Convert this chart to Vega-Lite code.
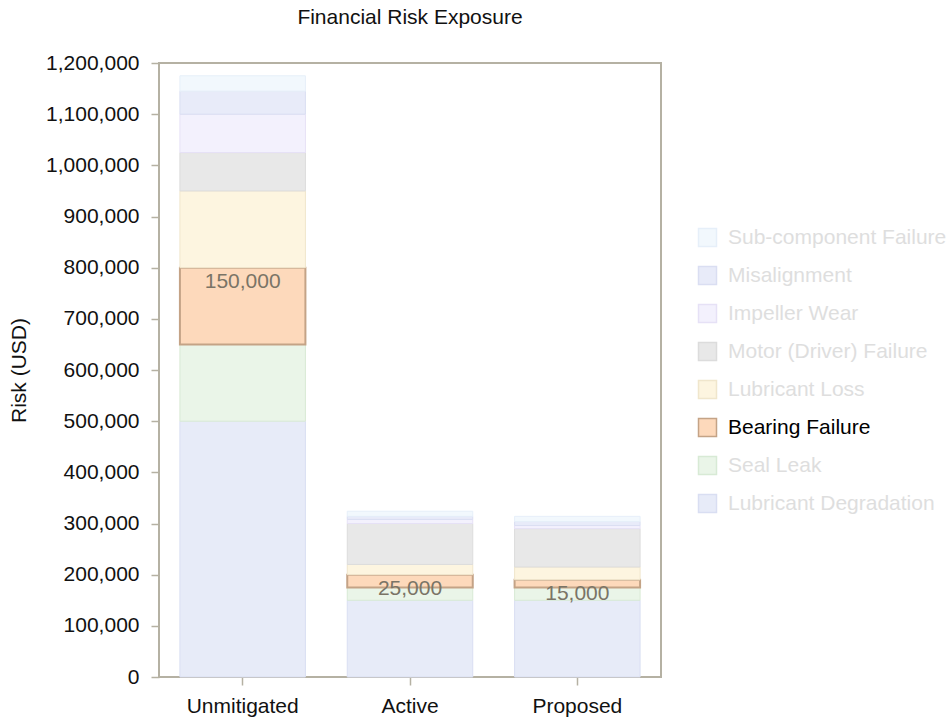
{
  "$schema": "https://vega.github.io/schema/vega-lite/v6.json",
  "autosize": {"type": "none"},
  "width": 502,
  "height": 614,
  "padding": {"left": 159, "top": 63, "right": 290, "bottom": 42},
  "background": "white",
  "config": {
    "font": "Liberation Sans",
    "view": {"stroke": "#b5b1a3", "strokeWidth": 2},
    "axis": {"labelFont": "Liberation Sans", "titleFont": "Liberation Sans"}
  },
  "title": {
    "text": "Financial Risk Exposure",
    "fontSize": 21,
    "fontWeight": "normal",
    "color": "#111111",
    "anchor": "middle",
    "offset": 24
  },
  "data": {
    "values": [
      {"scenario": "Unmitigated", "cause": "Lubricant Degradation", "rank": 1, "value": 500000},
      {"scenario": "Unmitigated", "cause": "Seal Leak", "rank": 2, "value": 150000},
      {"scenario": "Unmitigated", "cause": "Bearing Failure", "rank": 3, "value": 150000},
      {"scenario": "Unmitigated", "cause": "Lubricant Loss", "rank": 4, "value": 150000},
      {"scenario": "Unmitigated", "cause": "Motor (Driver) Failure", "rank": 5, "value": 75000},
      {"scenario": "Unmitigated", "cause": "Impeller Wear", "rank": 6, "value": 75000},
      {"scenario": "Unmitigated", "cause": "Misalignment", "rank": 7, "value": 45000},
      {"scenario": "Unmitigated", "cause": "Sub-component Failure", "rank": 8, "value": 30000},
      {"scenario": "Active", "cause": "Lubricant Degradation", "rank": 1, "value": 150000},
      {"scenario": "Active", "cause": "Seal Leak", "rank": 2, "value": 25000},
      {"scenario": "Active", "cause": "Bearing Failure", "rank": 3, "value": 25000},
      {"scenario": "Active", "cause": "Lubricant Loss", "rank": 4, "value": 20000},
      {"scenario": "Active", "cause": "Motor (Driver) Failure", "rank": 5, "value": 80000},
      {"scenario": "Active", "cause": "Impeller Wear", "rank": 6, "value": 8000},
      {"scenario": "Active", "cause": "Misalignment", "rank": 7, "value": 6000},
      {"scenario": "Active", "cause": "Sub-component Failure", "rank": 8, "value": 10000},
      {"scenario": "Proposed", "cause": "Lubricant Degradation", "rank": 1, "value": 150000},
      {"scenario": "Proposed", "cause": "Seal Leak", "rank": 2, "value": 25000},
      {"scenario": "Proposed", "cause": "Bearing Failure", "rank": 3, "value": 15000},
      {"scenario": "Proposed", "cause": "Lubricant Loss", "rank": 4, "value": 25000},
      {"scenario": "Proposed", "cause": "Motor (Driver) Failure", "rank": 5, "value": 75000},
      {"scenario": "Proposed", "cause": "Impeller Wear", "rank": 6, "value": 6000},
      {"scenario": "Proposed", "cause": "Misalignment", "rank": 7, "value": 8000},
      {"scenario": "Proposed", "cause": "Sub-component Failure", "rank": 8, "value": 10000}
    ]
  },
  "transform": [
    {"stack": "value", "groupby": ["scenario"], "sort": [{"field": "rank", "order": "ascending"}], "as": ["v0", "v1"]}
  ],
  "encoding": {
    "x": {
      "field": "scenario",
      "type": "nominal",
      "sort": ["Unmitigated", "Active", "Proposed"],
      "scale": {"paddingInner": 0.25, "paddingOuter": 0.125},
      "axis": {
        "title": null,
        "labelAngle": 0,
        "labelFontSize": 21,
        "labelColor": "#111111",
        "labelPadding": 10,
        "tickSize": 8,
        "tickColor": "#b5b1a3",
        "tickWidth": 1.5,
        "domain": false
      }
    }
  },
  "layer": [
    {
      "mark": {"type": "bar"},
      "encoding": {
        "y": {
          "field": "v0",
          "type": "quantitative",
          "scale": {"domain": [0, 1200000], "nice": false},
          "axis": {
            "title": "Risk (USD)",
            "titleFontSize": 21,
            "titleFontWeight": "normal",
            "titleColor": "#111111",
            "titlePadding": 16,
            "values": [0, 100000, 200000, 300000, 400000, 500000, 600000, 700000, 800000, 900000, 1000000, 1100000, 1200000],
            "format": ",.0f",
            "labelFontSize": 21,
            "labelColor": "#111111",
            "labelPadding": 12,
            "tickSize": 8,
            "tickColor": "#b5b1a3",
            "tickWidth": 1.5,
            "grid": false,
            "domain": false
          }
        },
        "y2": {"field": "v1"},
        "fill": {
          "field": "cause",
          "type": "nominal",
          "scale": {
            "domain": ["Sub-component Failure", "Misalignment", "Impeller Wear", "Motor (Driver) Failure", "Lubricant Loss", "Bearing Failure", "Seal Leak", "Lubricant Degradation"],
            "range": ["#f2f8fd", "#e8ebf9", "#f3f1fd", "#e8e8e8", "#fdf5e0", "#fdd9bb", "#eaf5e8", "#e7ebf8"]
          },
          "legend": {
            "title": null,
            "orient": "none",
            "legendX": 538,
            "legendY": 164,
            "symbolType": "square",
            "symbolSize": 324,
            "symbolStrokeWidth": 1.5,
            "labelFontSize": 21,
            "labelOffset": 10,
            "rowPadding": 13,
            "labelLimit": 400,
            "encode": {
              "labels": {"update": {"fill": {"signal": "datum.label === 'Bearing Failure' ? '#000000' : '#dedede'"}}}
            }
          }
        },
        "stroke": {
          "field": "cause",
          "type": "nominal",
          "scale": {
            "domain": ["Sub-component Failure", "Misalignment", "Impeller Wear", "Motor (Driver) Failure", "Lubricant Loss", "Bearing Failure", "Seal Leak", "Lubricant Degradation"],
            "range": ["#e6eff9", "#dadef2", "#e6e1f6", "#dcdcdc", "#f0e6cc", "#c4a386", "#d8eAd5", "#d9def2"]
          }
        },
        "strokeWidth": {"condition": {"test": "datum.cause === 'Bearing Failure'", "value": 2}, "value": 1}
      }
    },
    {
      "transform": [{"filter": "datum.cause === 'Bearing Failure'"}],
      "mark": {"type": "text", "baseline": "top", "dy": 3, "fontSize": 21, "color": "#7a7466"},
      "encoding": {
        "y": {
          "field": "v1",
          "type": "quantitative",
          "axis": {
            "title": "Risk (USD)",
            "titleFontSize": 21,
            "titleFontWeight": "normal",
            "titleColor": "#111111",
            "titlePadding": 16,
            "values": [0, 100000, 200000, 300000, 400000, 500000, 600000, 700000, 800000, 900000, 1000000, 1100000, 1200000],
            "format": ",.0f",
            "labelFontSize": 21,
            "labelColor": "#111111",
            "labelPadding": 12,
            "tickSize": 8,
            "tickColor": "#b5b1a3",
            "tickWidth": 1.5,
            "grid": false,
            "domain": false
          }
        },
        "text": {"field": "value", "type": "quantitative", "format": ","}
      }
    }
  ]
}
